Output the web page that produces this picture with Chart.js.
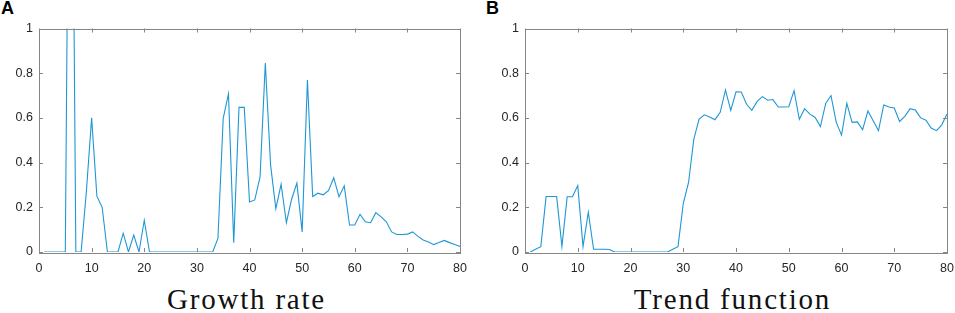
<!DOCTYPE html>
<html lang="en">
<head>
<meta charset="UTF-8">
<title>Growth rate and trend function</title>
<script src="https://cdn.jsdelivr.net/npm/chart.js"></script>
<style>
    body {
        margin: 0;
        background: #fff;
        width: 955px;
        height: 313px;
        position: relative;
        overflow: hidden;
        font-family: "Liberation Sans", Arial, sans-serif;
    }
    .panel {
        position: absolute;
        top: 15px;
        height: 266px;
    }
    .tag {
        position: absolute;
        top: -2px;
        font-weight: bold;
        font-size: 18px;
        color: #000;
    }
    .caption {
        position: absolute;
        top: 283px;
        width: 421px;
        text-align: center;
        font-family: "Liberation Serif", "Times New Roman", serif;
        font-size: 29px;
        letter-spacing: 1.8px;
        color: #111;
    }
</style>
</head>
<body>
<div class="tag" style="left:1px">A</div>
<div class="tag" style="left:486px">B</div>

<div class="panel" style="left:0px; width:476px"><canvas id="growthChart"></canvas></div>
<div class="panel" style="left:486px; width:477px"><canvas id="trendChart"></canvas></div>

<div class="caption" style="left:36px">Growth rate</div>
<div class="caption" style="left:522px">Trend function</div>

<script>
// time steps
const steps = [1, 2, 3, 4, 5, 6, 7, 8, 9, 10, 11, 12, 13, 14, 15, 16, 17, 18, 19, 20,
    21, 22, 23, 24, 25, 26, 27, 28, 29, 30, 31, 32, 33, 34, 35, 36, 37, 38, 39, 40,
    41, 42, 43, 44, 45, 46, 47, 48, 49, 50, 51, 52, 53, 54, 55, 56, 57, 58, 59, 60,
    61, 62, 63, 64, 65, 66, 67, 68, 69, 70, 71, 72, 73, 74, 75, 76, 77, 78, 79, 80];

// panel A - growth rate
const growthRate = [0, 0, 0, 0, 0, 3, 0, 0, 0.27, 0.6,
    0.25, 0.2, 0, 0, 0, 0.084, 0, 0.076, 0, 0.142,
    0, 0, 0, 0, 0, 0, 0, 0, 0, 0,
    0, 0, 0, 0.061, 0.598, 0.707, 0.042, 0.647, 0.647, 0.224,
    0.233, 0.336, 0.845, 0.39, 0.194, 0.303, 0.131, 0.236, 0.308, 0.09,
    0.77, 0.248, 0.263, 0.256, 0.274, 0.332, 0.247, 0.296, 0.121, 0.121,
    0.169, 0.135, 0.131, 0.176, 0.157, 0.135, 0.09, 0.078, 0.078, 0.08,
    0.09, 0.07, 0.054, 0.045, 0.033, 0.042, 0.052, 0.042, 0.034, 0.025];

// panel B - trend function
const trendValues = [0, 0.012, 0.024, 0.248, 0.248, 0.248, 0.025, 0.247, 0.247, 0.297,
    0.024, 0.178, 0.012, 0.012, 0.012, 0.011, 0, 0, 0, 0,
    0, 0, 0, 0, 0, 0, 0, 0.012, 0.024, 0.217,
    0.311, 0.505, 0.595, 0.614, 0.604, 0.592, 0.625, 0.725, 0.634, 0.717,
    0.716, 0.661, 0.634, 0.674, 0.695, 0.679, 0.682, 0.649, 0.649, 0.65,
    0.722, 0.594, 0.641, 0.617, 0.602, 0.561, 0.665, 0.7, 0.58, 0.523,
    0.665, 0.58, 0.582, 0.547, 0.631, 0.587, 0.543, 0.658, 0.649, 0.644,
    0.584, 0.607, 0.641, 0.635, 0.6, 0.59, 0.555, 0.543, 0.569, 0.617];

const xTicks = [0, 10, 20, 30, 40, 50, 60, 70, 80];
const yTicks = [0, 0.2, 0.4, 0.6, 0.8, 1];

const lineColor = '#1f97d4';
const axisColor = '#858585';

// matlab style box with inward ticks on all four sides
const boxPlugin = {
    id: 'matlabBox',
    afterDraw(chart) {
        const ctx = chart.ctx;
        const a = chart.chartArea;
        const xs = chart.scales.x, ys = chart.scales.y;
        const len = 4;
        ctx.save();
        ctx.strokeStyle = axisColor;
        ctx.lineWidth = 1;
        ctx.beginPath();
        xTicks.forEach(v => {
            const px = Math.round(xs.getPixelForValue(v)) + 0.5;
            ctx.moveTo(px, a.bottom); ctx.lineTo(px, a.bottom - len);
            ctx.moveTo(px, a.top); ctx.lineTo(px, a.top + len);
        });
        yTicks.forEach(v => {
            const py = Math.round(ys.getPixelForValue(v)) + 0.5;
            ctx.moveTo(a.left, py); ctx.lineTo(a.left + len, py);
            ctx.moveTo(a.right, py); ctx.lineTo(a.right - len, py);
        });
        ctx.stroke();
        ctx.strokeRect(Math.round(a.left) + 0.5, Math.round(a.top) + 0.5,
            Math.round(a.right - a.left), Math.round(a.bottom - a.top));
        ctx.restore();
    }
};

function makeChart(id, values, padRight) {
    const pts = steps.map((s, i) => ({ x: s, y: values[i] }));
    return new Chart(document.getElementById(id), {
        type: 'line',
        data: {
            datasets: [{
                data: pts,
                borderColor: lineColor,
                borderWidth: 1.1,
                pointRadius: 0,
                tension: 0,
                fill: false
            }]
        },
        options: {
            responsive: true,
            maintainAspectRatio: false,
            animation: false,
            layout: { padding: { top: 8, right: padRight, left: 0, bottom: 0 } },
            plugins: { legend: { display: false }, tooltip: { enabled: false } },
            scales: {
                x: {
                    type: 'linear',
                    min: 0,
                    max: 80,
                    afterBuildTicks: s => { s.ticks = xTicks.map(v => ({ value: v })); },
                    afterFit: s => { s.height = 29; },
                    grid: { display: false, drawTicks: false },
                    border: { display: false },
                    ticks: {
                        autoSkip: false,
                        maxRotation: 0,
                        padding: 9,
                        color: '#262626',
                        font: { family: '"Liberation Sans", Arial, sans-serif', size: 12.5 }
                    }
                },
                y: {
                    min: 0,
                    max: 1,
                    afterBuildTicks: s => { s.ticks = yTicks.map(v => ({ value: v })); },
                    afterFit: s => { s.width = 39; },
                    grid: { display: false, drawTicks: false },
                    border: { display: false },
                    ticks: {
                        padding: 6,
                        color: '#262626',
                        callback: v => String(+v.toFixed(1)),
                        font: { family: '"Liberation Sans", Arial, sans-serif', size: 12.5 }
                    }
                }
            }
        },
        plugins: [boxPlugin]
    });
}

makeChart('growthChart', growthRate, 10);
makeChart('trendChart', trendValues, 10);
</script>
</body>
</html>
